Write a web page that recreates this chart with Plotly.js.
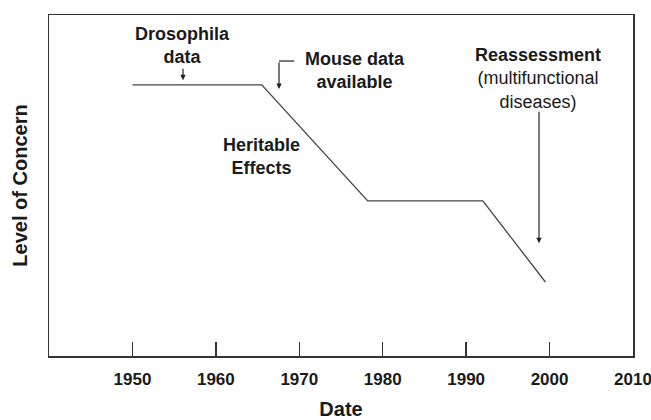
<!DOCTYPE html>
<html>
<head>
<meta charset="utf-8">
<script src="https://cdn.plot.ly/plotly-3.0.1.min.js"></script>
<style>html,body{margin:0;padding:0;background:#fff;}#chart{width:651px;height:420px;}</style>
</head>
<body>
<div id="chart"></div>
<script>
// Data
const years = [1950, 1965.5, 1978.2, 1992, 1999.5];
const concern = [7.95, 7.95, 4.55, 4.55, 2.17];
const tickYears = [1950, 1960, 1970, 1980, 1990, 2000, 2010];
const tickLabels = ['1950', '1960', '1970', '1980', '1990', '2000', '2010'];

const FONT = 'Liberation Sans, Arial, Helvetica, sans-serif';
const INK = '#1a1a1a';

function label(text, x, y, size) {
  return {
    text: text,
    x: x, y: y, xref: 'x', yref: 'y',
    showarrow: false, xanchor: 'center', yanchor: 'middle', align: 'center',
    font: {family: FONT, size: size || 18, color: INK}
  };
}
function arrow(x, y, ay) {
  return {
    text: '', x: x, y: y, xref: 'x', yref: 'y',
    showarrow: true, ax: 0, ay: ay, arrowhead: 2, arrowsize: 0.9, arrowwidth: 1.2,
    arrowcolor: '#222', standoff: 0, startstandoff: 0
  };
}

const annotations = [
  label('<b>Drosophila</b><br><b>data</b>', 1956.06, 9.12),
  arrow(1956.06, 8.09, -13),
  label('<b>Mouse data</b><br><b>available</b>', 1976.68, 8.37),
  arrow(1967.57, 7.83, -28),
  label('<b>Heritable</b><br><b>Effects</b>', 1965.53, 5.85),
  label('<b>Reassessment</b><br>(multifunctional<br>diseases)', 1998.6, 8.15),
  arrow(1998.73, 3.31, -133)
];

const shapes = [
  {type: 'line', xref: 'x', yref: 'y', x0: 1967.57, x1: 1969.4, y0: 8.65, y1: 8.65,
   line: {color: '#222', width: 1.2}}
];

const trace = {
  x: years, y: concern, type: 'scatter', mode: 'lines',
  line: {color: '#444', width: 1.3}, hoverinfo: 'skip'
};

const layout = {
  width: 651, height: 420,
  margin: {l: 49, r: 18, t: 15, b: 64},
  paper_bgcolor: '#fff', plot_bgcolor: '#fff',
  showlegend: false,
  xaxis: {
    range: [1940, 2010], tickmode: 'array', tickvals: tickYears, ticktext: tickLabels,
    ticks: 'inside', ticklen: 14, tickwidth: 1.3, tickcolor: '#333',
    showline: true, linecolor: '#333', linewidth: 1.5, mirror: true,
    showgrid: false, zeroline: false, ticklabelstandoff: 7, ticklabeloverflow: 'allow',
    tickfont: {family: FONT, size: 17, color: INK, weight: 'bold'},
    title: {text: '<b>Date</b>', font: {family: FONT, size: 20, color: INK}, standoff: 23}
  },
  yaxis: {
    range: [0, 10], showticklabels: false, ticks: '',
    showline: true, linecolor: '#333', linewidth: 1.5, mirror: true,
    showgrid: false, zeroline: false,
    title: {text: '<b>Level of Concern</b>', font: {family: FONT, size: 20, color: INK}, standoff: 14}
  },
  annotations: annotations,
  shapes: shapes
};

Plotly.newPlot('chart', [trace], layout, {displayModeBar: false, staticPlot: true});
</script>
</body>
</html>
